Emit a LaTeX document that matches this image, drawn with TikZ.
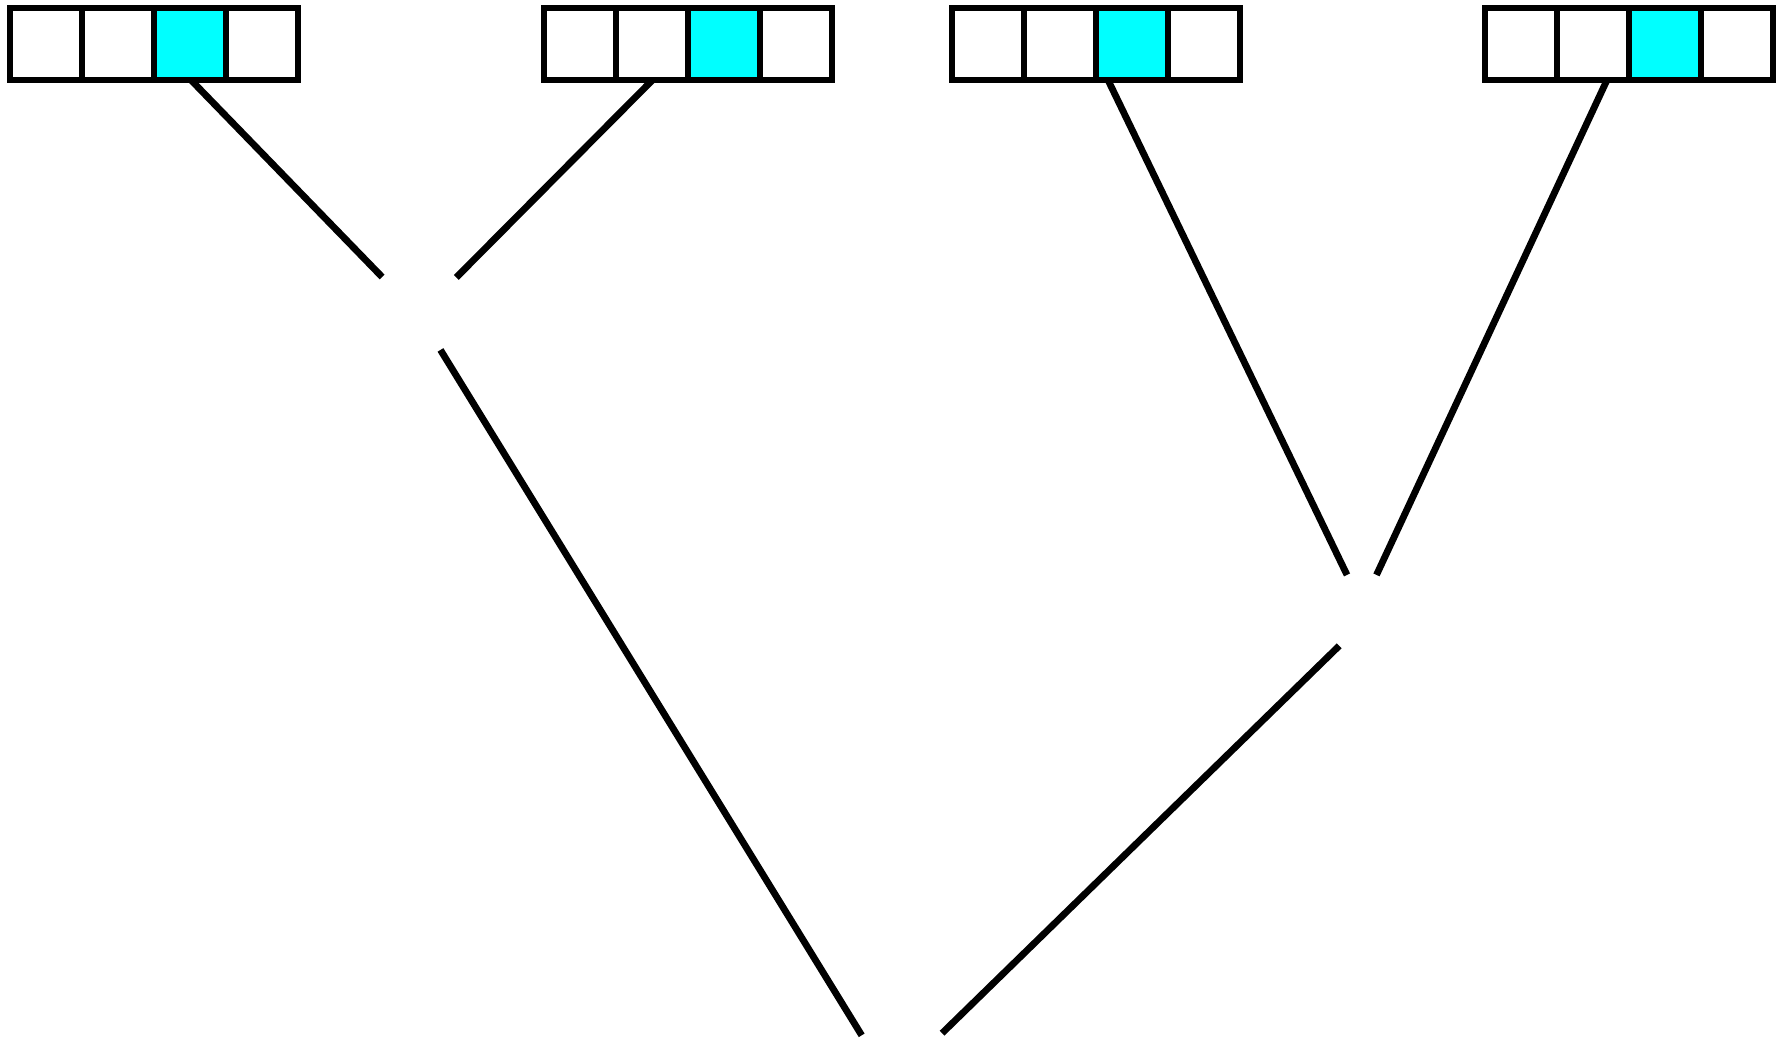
\documentclass[tikz,border=0pt]{standalone}
\usetikzlibrary{positioning}
\definecolor{cellcyan}{HTML}{00FFFF}
\begin{document}
\begin{tikzpicture}[x=1pt,y=-1pt,
  cellbox/.style={draw=black,line width=5.4pt,fill=white,minimum width=72pt,minimum height=72pt,inner sep=0pt,outer sep=0pt},
  hotcell/.style={cellbox,fill=cellcyan},
  arraybox/.style={draw=none,minimum width=288pt,minimum height=72pt,inner sep=0pt,outer sep=0pt},
  conn/.style={draw=black,line width=6.8pt,line cap=butt}]
\useasboundingbox (0,0) rectangle (1787,1042);
% arrays (invisible frames)
\node[arraybox] (a1) at (154,44) {};
\node[arraybox] (a2) at (688,44) {};
\node[arraybox] (a3) at (1096,44) {};
\node[arraybox] (a4) at (1629,44) {};
% hidden merge points
\coordinate (n1) at (419,315);
\coordinate (n2) at (1362,606);
\coordinate (root) at (891,1083);
% connectors
\draw[conn,shorten >=53pt] ([xshift=37pt]a1.south) -- (n1);
\draw[conn,shorten >=53pt] ([xshift=-35.5pt]a2.south) -- (n1);
\draw[conn,shorten >=34.5pt] ([xshift=12pt]a3.south) -- (n2);
\draw[conn,shorten >=34.3pt] ([xshift=-22pt]a4.south) -- (n2);
\draw[conn,shorten <=41pt,shorten >=56pt] (n1) -- (root);
\draw[conn,shorten <=57pt,shorten >=71.4pt] ([xshift=18pt]n2) -- (root);
% cells
\foreach \a in {1,2,3,4}{
  \node[cellbox] (c\a1) at ([xshift=-108pt]a\a.center) {};
  \node[cellbox] (c\a2) at ([xshift=-36pt]a\a.center) {};
  \node[hotcell] (c\a3) at ([xshift=36pt]a\a.center) {};
  \node[cellbox] (c\a4) at ([xshift=108pt]a\a.center) {};
}
\end{tikzpicture}
\end{document}
